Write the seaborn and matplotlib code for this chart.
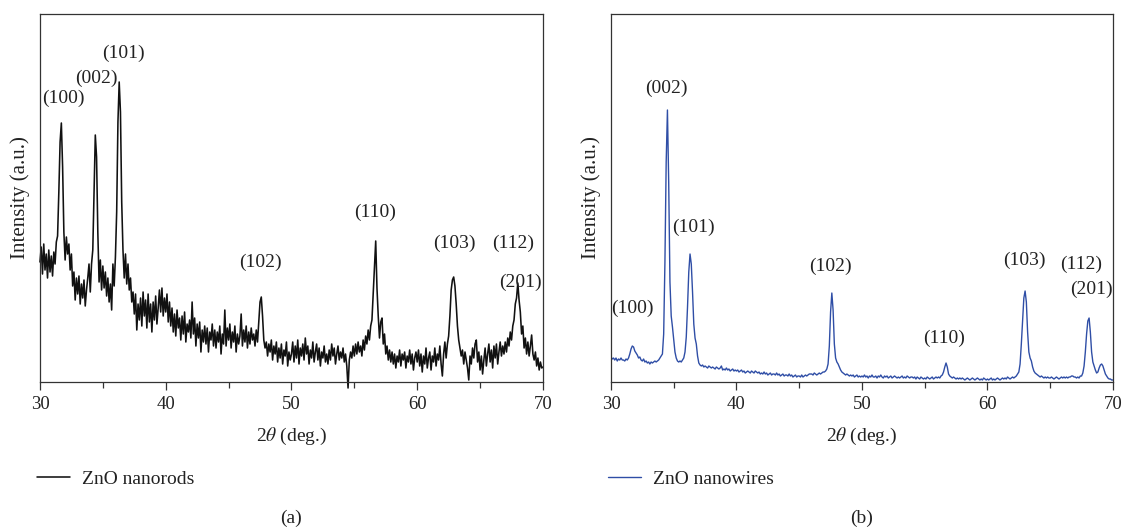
import numpy as np
import pandas as pd
import seaborn as sns
import matplotlib.pyplot as plt
from matplotlib.ticker import MultipleLocator

# 2theta grid, 30.0 .. 70.0 deg in 0.1 deg steps
two_theta = np.round(np.arange(300, 701) / 10, 1)

# ZnO nanorods, intensity (a.u.), one row per degree
nanorods = [
    120, 135, 108, 138, 112, 128, 104, 132, 110, 126,   # 30
    106, 130, 118, 140, 146, 190, 240, 259, 215, 150,   # 31
    122, 145, 128, 138, 112, 128, 96, 110, 82, 104,     # 32
    88, 106, 78, 98, 84, 102, 76, 92, 104, 118,         # 33
    90, 118, 132, 190, 247, 225, 150, 100, 122, 92,     # 34
    116, 94, 110, 86, 104, 80, 98, 72, 118, 96,         # 35
    125, 170, 260, 300, 270, 180, 132, 104, 128, 98,    # 36
    118, 92, 104, 80, 90, 68, 88, 52, 78, 62,           # 37
    84, 56, 90, 66, 82, 54, 88, 60, 78, 50,             # 38
    80, 62, 86, 58, 74, 92, 70, 94, 66, 84,             # 39
    70, 88, 60, 80, 56, 74, 50, 68, 46, 72,             # 40
    54, 64, 42, 66, 48, 70, 40, 58, 50, 62,             # 41
    44, 80, 48, 64, 36, 58, 44, 60, 30, 52,             # 42
    40, 56, 38, 54, 30, 50, 42, 58, 36, 52,             # 43
    34, 50, 40, 56, 28, 48, 38, 72, 36, 54,             # 44
    42, 58, 34, 50, 40, 56, 30, 48, 38, 46,             # 45
    68, 36, 52, 40, 56, 34, 50, 38, 54, 42,             # 46
    48, 36, 52, 40, 60, 80, 85, 66, 42, 34,             # 47
    40, 26, 38, 30, 42, 22, 36, 28, 40, 20,             # 48
    34, 24, 38, 18, 32, 26, 40, 16, 30, 22,             # 49
    28, 40, 20, 36, 24, 42, 18, 34, 26, 38,             # 50
    22, 44, 28, 36, 18, 32, 24, 40, 20, 30,             # 51
    38, 22, 34, 16, 30, 24, 36, 20, 28, 18,             # 52
    32, 22, 38, 26, 34, 18, 28, 36, 22, 30,             # 53
    24, 34, 20, 28, 16, -6, 22, 30, 24, 36,             # 54
    26, 38, 28, 40, 30, 36, 26, 42, 32, 46,             # 55
    38, 52, 42, 56, 62, 88, 112, 141, 94, 66,           # 56
    44, 60, 64, 38, 48, 28, 36, 22, 32, 20,             # 57
    30, 18, 28, 14, 26, 20, 32, 16, 28, 22,             # 58
    30, 14, 26, 20, 32, 18, 28, 12, 24, 30,             # 59
    20, 32, 16, 28, 10, 26, 18, 34, 14, 24,             # 60
    30, 12, 26, 20, 34, 16, 28, 22, 36, 18,             # 61
    6, 28, 40, 24, 38, 46, 66, 92, 102, 105,            # 62
    96, 78, 56, 42, 34, 26, 32, 18, 30, 22,             # 63
    14, 2, 26, 18, 34, 24, 38, 42, 20, 30,              # 64
    12, 26, 8, 22, 34, 16, 28, 38, 20, 32,              # 65
    14, 36, 24, 38, 18, 30, 40, 26, 36, 28,             # 66
    40, 30, 44, 36, 50, 42, 56, 62, 78, 84,             # 67
    99, 82, 70, 48, 56, 34, 44, 28, 40, 26,             # 68
    36, 47, 28, 22, 30, 16, 24, 12, 20, 14,             # 69
    15,                                                 # 70
]

# ZnO nanowires
nanowires = [
    25, 23, 24, 22, 24, 21, 23, 22, 24, 22,             # 30
    22, 21, 23, 22, 24, 28, 33, 36, 35, 31,             # 31
    29, 27, 24, 25, 22, 21, 23, 20, 21, 19,             # 32
    20, 18, 20, 19, 20, 21, 20, 21, 22, 24,             # 33
    26, 28, 48, 120, 220, 272, 200, 100, 66, 55,        # 34
    42, 30, 24, 21, 20, 21, 20, 22, 24, 30,             # 35
    45, 75, 110, 128, 118, 90, 58, 44, 38, 26,          # 36
    19, 17, 16, 17, 15, 16, 15, 14, 16, 15,             # 37
    14, 15, 14, 13, 15, 14, 13, 14, 16, 12,             # 38
    13, 12, 14, 12, 13, 11, 12, 13, 11, 12,             # 39
    11, 12, 10, 11, 12, 10, 11, 9, 10, 11,              # 40
    10, 9, 11, 10, 9, 11, 10, 9, 10, 8,                 # 41
    9, 8, 10, 8, 9, 7, 8, 9, 7, 8,                      # 42
    8, 7, 9, 7, 8, 6, 7, 8, 6, 7,                       # 43
    7, 6, 8, 6, 7, 5, 6, 7, 5, 6,                       # 44
    6, 5, 7, 5, 6, 7, 6, 7, 8, 8,                       # 45
    8, 7, 9, 8, 7, 8, 9, 8, 9, 10,                      # 46
    10, 11, 13, 18, 36, 70, 89, 72, 38, 24,             # 47
    20, 18, 15, 12, 10, 9, 8, 7, 8, 7,                  # 48
    6, 7, 6, 7, 5, 6, 7, 5, 6, 5,                       # 49
    6, 5, 7, 5, 6, 4, 6, 5, 7, 5,                       # 50
    5, 6, 4, 6, 5, 7, 5, 4, 6, 5,                       # 51
    6, 4, 5, 6, 4, 5, 6, 5, 4, 5,                       # 52
    4, 5, 6, 4, 5, 4, 6, 5, 4, 5,                       # 53
    5, 4, 5, 3, 5, 4, 3, 5, 4, 3,                       # 54
    4, 3, 5, 4, 3, 4, 5, 3, 4, 5,                       # 55
    4, 5, 4, 6, 7, 10, 15, 19, 15, 8,                   # 56
    6, 5, 4, 5, 4, 3, 4, 3, 4, 3,                       # 57
    4, 3, 2, 3, 4, 3, 2, 3, 4, 3,                       # 58
    2, 3, 4, 3, 2, 3, 2, 4, 3, 2,                       # 59
    3, 2, 3, 4, 2, 3, 2, 3, 4, 3,                       # 60
    2, 3, 4, 3, 4, 3, 5, 4, 3, 4,                       # 61
    5, 4, 5, 6, 8, 10, 18, 38, 62, 84,                  # 62
    91, 80, 50, 30, 24, 21, 15, 11, 9, 8,               # 63
    7, 6, 5, 6, 5, 4, 5, 4, 5, 4,                       # 64
    4, 5, 4, 3, 4, 5, 4, 3, 4, 5,                       # 65
    4, 5, 4, 5, 4, 5, 5, 6, 6, 5,                       # 66
    5, 4, 5, 4, 6, 6, 9, 16, 30, 48,                    # 67
    61, 64, 50, 30, 20, 16, 12, 9, 10, 14,              # 68
    17, 18, 16, 12, 8, 6, 4, 3, 3, 2,                   # 69
    2,                                                  # 70
]

# peak labels (Miller indices)
hkl_labels = ["(100)", "(002)", "(101)", "(102)", "(110)", "(103)", "(112)", "(201)"]


def draw_panel(ax, df, color, lw, legend_label, label_xy, caption, clip=True):
    sns.lineplot(data=df, x="2theta", y="intensity", ax=ax, color=color,
                 linewidth=lw, estimator=None, sort=False, label=legend_label)
    for line in ax.lines:
        line.set_clip_on(clip)
    ax.set_xlim(30, 70)
    ax.set_ylim(0, 368)
    ax.set_yticks([])
    ax.xaxis.set_major_locator(MultipleLocator(10))
    ax.xaxis.set_minor_locator(MultipleLocator(5))
    ax.tick_params(axis="x", which="major", direction="out", length=6, width=0.9, pad=4)
    ax.tick_params(axis="x", which="minor", direction="out", length=4, width=0.9)
    for side in ["top", "right", "left", "bottom"]:
        ax.spines[side].set_visible(True)
        ax.spines[side].set_color("#333333")
        ax.spines[side].set_linewidth(0.9)

    for text, (x, y) in zip(hkl_labels, label_xy):
        ax.text(x, y, text, ha="center", va="center", fontsize=14, color="#222222")

    ax.set_xlabel(r"2$\theta$ (deg.)", fontsize=14)
    ax.set_ylabel("Intensity (a.u.)", fontsize=15)
    ax.xaxis.set_label_coords(0.5, -0.12)
    ax.yaxis.set_label_coords(-0.02, 0.5)

    ax.legend(loc="center left", bbox_to_anchor=(-0.006, -0.264), frameon=False,
              fontsize=14, handlelength=1.7, handletextpad=0.6, borderpad=0,
              borderaxespad=0)
    ax.text(0.5, -0.37, caption, transform=ax.transAxes, ha="center", va="center",
            fontsize=14, color="#222222")


sns.set_theme(style="ticks")
plt.rcParams["font.family"] = ["Liberation Serif", "DejaVu Serif"]
plt.rcParams["mathtext.fontset"] = "stix"
plt.rcParams["text.color"] = "#222222"
plt.rcParams["axes.labelcolor"] = "#222222"
plt.rcParams["xtick.color"] = "#333333"
plt.rcParams["xtick.labelcolor"] = "#222222"
plt.rcParams["xtick.labelsize"] = 13.5

rods_df = pd.DataFrame({"2theta": two_theta, "intensity": nanorods})
wires_df = pd.DataFrame({"2theta": two_theta, "intensity": nanowires})

fig = plt.figure(figsize=(11.26, 5.28), dpi=100)
ax_a = fig.add_axes([0.0355, 0.2765, 0.4467, 0.697])
ax_b = fig.add_axes([0.5426, 0.2765, 0.4458, 0.697])

rods_label_xy = [(31.83, 284), (34.5, 304), (36.63, 329), (47.5, 120),
                 (56.64, 170), (62.92, 139), (67.64, 139), (68.17, 100)]
wires_label_xy = [(31.73, 74), (34.38, 294), (36.61, 155), (47.45, 116),
                  (56.56, 44), (62.93, 122), (67.5, 118), (68.3, 93)]

draw_panel(ax_a, rods_df, "#111111", 1.15, "ZnO nanorods", rods_label_xy, "(a)", clip=False)
draw_panel(ax_b, wires_df, "#2f4ea6", 1.0, "ZnO nanowires", wires_label_xy, "(b)")

fig.savefig("out.png", dpi=100)
